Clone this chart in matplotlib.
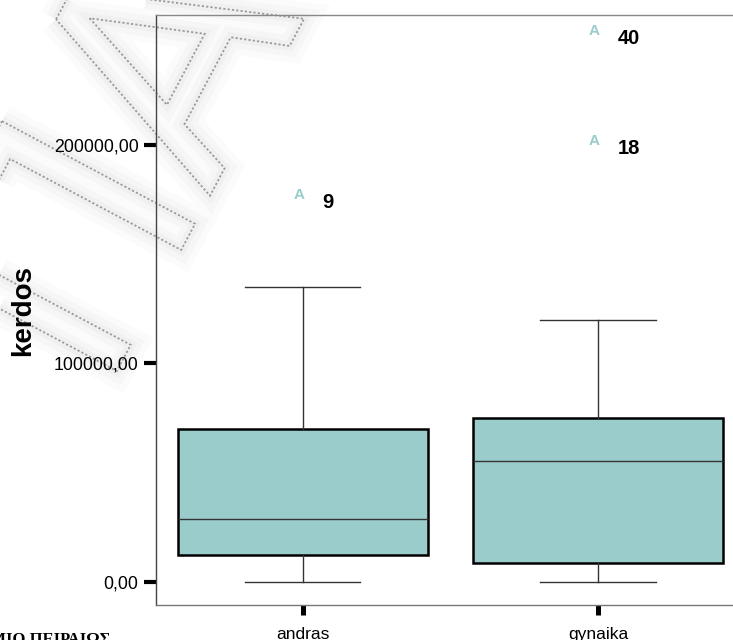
import matplotlib
matplotlib.use("Agg")
import matplotlib.pyplot as plt
from matplotlib.textpath import TextPath
from matplotlib.patches import PathPatch
from matplotlib.font_manager import FontProperties
from matplotlib.transforms import Affine2D

# kerdos ana fylo (boxplot opws sto SPSS)
groups = ["andras", "gynaika"]
q1 = [12200, 8500]
median = [28900, 55300]
q3 = [69800, 74800]
whis_low = [0, 0]
whis_high = [134700, 119800]
outliers = [[177100], [252100, 201800]]
outlier_ids = [["9"], ["40", "18"]]

box_color = "#9bcccc"

fig = plt.figure(figsize=(7.33, 6.4), dpi=100)
fig.patch.set_facecolor("white")

# ydatografima piso apo to grafima
W, H = 733, 640
wm_font = FontProperties(family="DejaVu Sans", weight="normal")
wm = TextPath((0, 0), "ΠΑΝΕΠΙ", size=1, prop=wm_font)
wm_tr = (Affine2D().scale(300).rotate_deg(62).translate(103, H - 397)
         .scale(1 / 100.0) + fig.dpi_scale_trans)
for lw, a in [(24, 0.03), (15, 0.045), (7, 0.05)]:
    fig.add_artist(PathPatch(wm, transform=wm_tr, facecolor="none",
                             edgecolor="#888888", lw=lw, alpha=a, zorder=-3))
fig.add_artist(PathPatch(wm, transform=wm_tr, facecolor="none",
                         edgecolor="#9a9a9a", lw=1.3, ls=(0, (1.2, 1.2)), zorder=-2))

fig.text(110 / W, -4 / H, "ΠΑΝΕΠΙΣΤΗΜΙΟ ΠΕΙΡΑΙΩΣ", ha="right", va="baseline",
         fontsize=12, fontweight="bold", family="Liberation Serif")

ax = fig.add_axes([156 / W, 35 / H, 1 - 156 / W, 590 / H])
ax.patch.set_alpha(0)

stats = []
for i in range(len(groups)):
    stats.append(dict(label=groups[i], q1=q1[i], med=median[i], q3=q3[i],
                      whislo=whis_low[i], whishi=whis_high[i], fliers=[]))

ax.bxp(stats, positions=[1, 2], widths=0.847, capwidths=0.39,
       patch_artist=True, showfliers=False,
       boxprops=dict(facecolor=box_color, edgecolor="black", linewidth=1.8),
       medianprops=dict(color="#333333", linewidth=1.0),
       whiskerprops=dict(color="#333333", linewidth=1.0),
       capprops=dict(color="#333333", linewidth=1.0))

# akraies times me ton arithmo periptwsis
for i in range(len(groups)):
    for v, lab in zip(outliers[i], outlier_ids[i]):
        ax.text(i + 1 - 0.012, v, "A", color=box_color, fontsize=11,
                fontweight="bold", ha="center", va="center",
                family="Liberation Sans")
        ax.annotate(lab, (i + 1, v), xytext=(14, -6), textcoords="offset points",
                    ha="left", va="center", fontsize=14.5, fontweight="bold",
                    family="Liberation Sans")

ax.set_xlim(0.503, 2.457)
ax.set_ylim(-10514, 259200)
ax.set_yticks([0, 100000, 200000])
ax.set_yticklabels(["0,00", "100000,00", "200000,00"])
ax.set_xticks([1, 2])
ax.set_xticklabels(groups)

ax.tick_params(axis="y", length=8.6, width=3, pad=4, labelsize=12.8, color="black")
ax.tick_params(axis="x", length=7.5, width=3.6, pad=8, labelsize=12.5, color="black")
for t in ax.get_xticklabels() + ax.get_yticklabels():
    t.set_family("Liberation Sans")

ax.spines["right"].set_visible(False)
ax.spines["left"].set_color("#444444")
ax.spines["top"].set_color("#888888")
ax.spines["bottom"].set_color("#777777")
for s in ax.spines.values():
    s.set_linewidth(1.0)

ax.set_ylabel("kerdos", fontsize=20, fontweight="bold", family="Liberation Sans")
ax.yaxis.set_label_coords(-0.207, 0.5)

fig.savefig("out.png", dpi=100)
